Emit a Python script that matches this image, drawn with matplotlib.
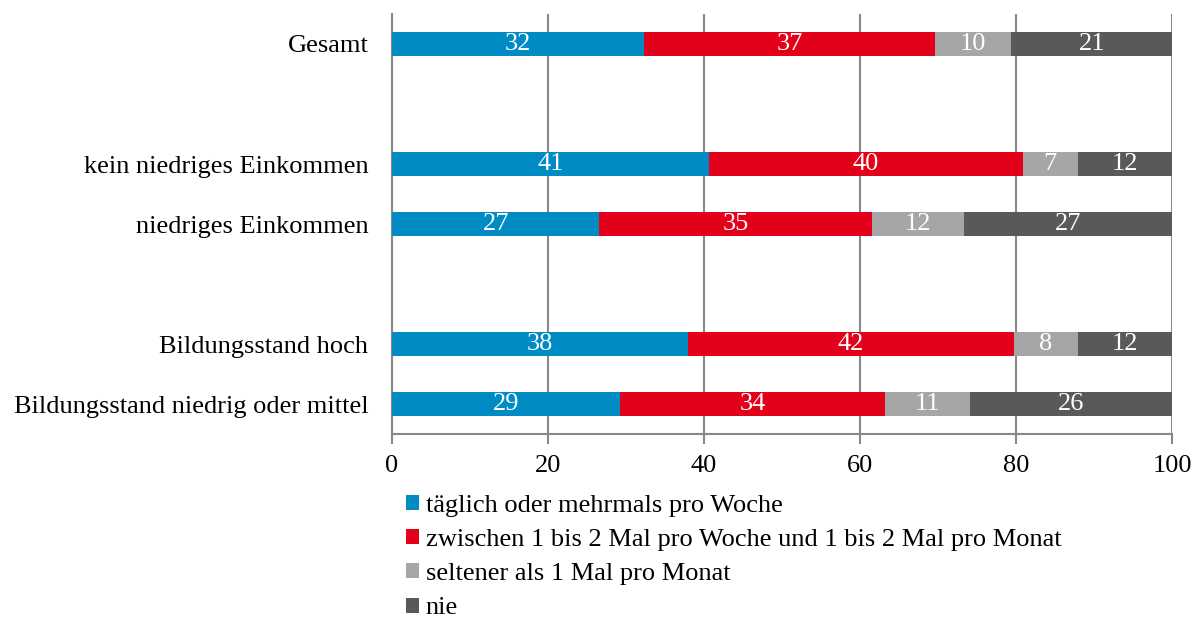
import numpy as np
import matplotlib.pyplot as plt
from matplotlib.patches import Patch

plt.rcParams['font.family'] = ['Liberation Serif', 'DejaVu Serif']

# rows from top to bottom, None = empty slot
groups = ["Gesamt", None, "kein niedriges Einkommen", "niedriges Einkommen",
          None, "Bildungsstand hoch", "Bildungsstand niedrig oder mittel"]

series = ["täglich oder mehrmals pro Woche",
          "zwischen 1 bis 2 Mal pro Woche und 1 bis 2 Mal pro Monat",
          "seltener als 1 Mal pro Monat",
          "nie"]

taeglich = [32.3, None, 40.6, 26.6, None, 37.9, 29.2]
zwischen = [37.3, None, 40.3, 35.0, None, 41.8, 34.0]
seltener = [9.8, None, 7.0, 11.7, None, 8.3, 10.9]
nie = [20.6, None, 12.1, 26.7, None, 12.0, 25.9]

labels_taeglich = [32, None, 41, 27, None, 38, 29]
labels_zwischen = [37, None, 40, 35, None, 42, 34]
labels_seltener = [10, None, 7, 12, None, 8, 11]
labels_nie = [21, None, 12, 27, None, 12, 26]

colors = ["#008BC4", "#E2001A", "#A6A6A6", "#595959"]

values = [taeglich, zwischen, seltener, nie]
labels = [labels_taeglich, labels_zwischen, labels_seltener, labels_nie]

fs = 19

fig = plt.figure(figsize=(12.01, 6.19), dpi=100)
ax = fig.add_axes([392 / 1201, 1 - 434 / 619, 780 / 1201, 420 / 619])

ypos = np.arange(len(groups))
left = np.zeros(len(groups))
for vals, labs, col in zip(values, labels, colors):
    for i, (v, lab) in enumerate(zip(vals, labs)):
        if v is None:
            continue
        ax.barh(ypos[i], v, left=left[i], height=0.4, color=col, zorder=3)
        ax.text(left[i] + v / 2, ypos[i], str(lab), color="white",
                ha="center", va="center", fontsize=fs, zorder=4)
        left[i] += v

ax.set_xlim(0, 100)
ax.set_ylim(len(groups) - 0.5, -0.5)
ax.set_xticks(np.arange(0, 101, 20))
ax.set_yticks([i for i, g in enumerate(groups) if g is not None])
ax.set_yticklabels([g for g in groups if g is not None])
ax.tick_params(axis='y', length=0, pad=17, labelsize=fs)
ax.tick_params(axis='x', length=7, width=1.5, color="#888888", pad=8, labelsize=fs)
ax.grid(axis='x', color="#888888", linewidth=1.5, zorder=0)
for s in ["top", "right"]:
    ax.spines[s].set_visible(False)
for s in ["left", "bottom"]:
    ax.spines[s].set_color("#888888")
    ax.spines[s].set_linewidth(1.5)

handles = [Patch(facecolor=c, edgecolor="none") for c in colors]
fig.legend(handles, series, loc="upper left", bbox_to_anchor=(406 / 1201, 1 - 495 / 619),
           frameon=False, fontsize=fs, handlelength=0.5, handleheight=0.5,
           handletextpad=0.25, labelspacing=0.46, borderaxespad=0, borderpad=0)

fig.savefig("out.png", dpi=100)
